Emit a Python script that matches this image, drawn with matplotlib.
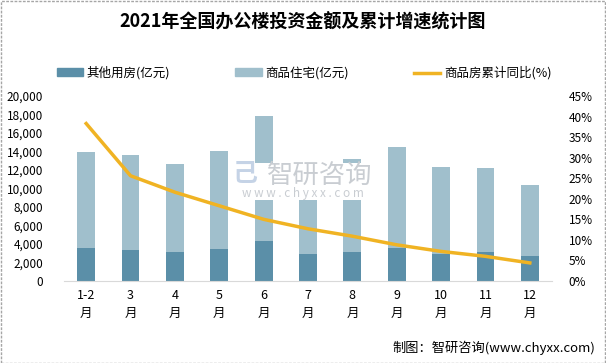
import numpy as np
import matplotlib.pyplot as plt
from matplotlib.patches import Rectangle
from matplotlib.lines import Line2D
from matplotlib.ticker import FuncFormatter

plt.rcParams['font.family'] = ['Noto Sans CJK SC', 'DejaVu Sans']

months = ["1-2", "3", "4", "5", "6", "7", "8", "9", "10", "11", "12"]
total = [13986, 13590, 12664, 14078, 17861, 12716, 13165, 14499, 12375, 12253, 10415]
other = [3570, 3350, 3130, 3460, 4320, 2920, 3130, 3570, 2920, 3130, 2700]
resid = [t - o for t, o in zip(total, other)]
growth = [38.3, 25.6, 21.6, 18.3, 15.0, 12.7, 10.9, 8.8, 7.2, 6.0, 4.4]

c_dark = "#5b8fa8"
c_light = "#a0bfcc"
c_line = "#f0b323"

fig = plt.figure(figsize=(6.06, 3.63), dpi=100)
ax = fig.add_axes([64/606, 82/363, 488/606, 185/363])
x = np.arange(len(months))
ax.bar(x, other, width=0.4, color=c_dark, zorder=2)
ax.bar(x, resid, width=0.4, bottom=other, color=c_light, zorder=2)
ax.set_xlim(-0.5, len(months) - 0.5)
ax.set_ylim(0, 20000)
ax.set_yticks(range(0, 20001, 2000))
ax.yaxis.set_major_formatter(FuncFormatter(lambda v, p: f"{int(v):,}"))
ax.set_xticks(x)
ax.set_xticklabels([m + "\n月" for m in months], fontsize=9, linespacing=1.5)
for s in ["top", "right", "left"]:
    ax.spines[s].set_visible(False)
ax.spines["bottom"].set_color("#d9d9d9")
ax.tick_params(axis="both", length=0)
ax.tick_params(axis="x", pad=6, labelsize=9)
ax.tick_params(axis="y", pad=15, labelsize=8.5)

ax2 = ax.twinx()
ax2.plot(x, growth, color=c_line, lw=2.5)
ax2.set_ylim(0, 45)
ax2.set_yticks(range(0, 46, 5))
ax2.yaxis.set_major_formatter(FuncFormatter(lambda v, p: f"{int(v)}%"))
for s in ax2.spines.values():
    s.set_visible(False)
ax2.tick_params(axis="y", length=0, labelsize=8.5, pad=12)

# watermark
ax.add_patch(Rectangle((231/606, 163/363), 150/606, 37/363, transform=fig.transFigure,
                       facecolor="white", edgecolor="none", zorder=3))
ax.text(320/606, 1 - 175/363, "智研咨询", transform=fig.transFigure, ha="center", va="center",
        fontsize=19, color="#c9cdd2", zorder=4)
ax.text(303/606, 1 - 194/363, "w w w . c h y x x . c o m", transform=fig.transFigure,
        ha="center", va="center", fontsize=8.5, color="#c9cdd2", zorder=4)
ax.text(245/606, 1 - 174/363, "己", transform=fig.transFigure, ha="center", va="center",
        fontsize=18, color="#c5d3e6", fontweight="bold", zorder=4)

fig.text(0.5, 1 - 22/363, "2021年全国办公楼投资金额及累计增速统计图", ha="center", va="center",
         fontsize=13, fontweight="bold")

handles = [Rectangle((0, 0), 1, 1, color=c_dark), Rectangle((0, 0), 1, 1, color=c_light),
           Line2D([], [], color=c_line, lw=2.5)]
fig.legend(handles, ["其他用房(亿元)", "商品住宅(亿元)", "商品房累计同比(%)"], ncol=3,
           loc="center", bbox_to_anchor=(304/606, 1 - 73/363), frameon=False, fontsize=9,
           handlelength=2.1, handleheight=0.6, handletextpad=0.3, columnspacing=5.2)

fig.text(595/606, 15/363, "制图：智研咨询(www.chyxx.com)", ha="right", va="center", fontsize=9.5)

fig.patches.append(Rectangle((0.001, 0.001), 0.997, 0.997, transform=fig.transFigure,
                             fill=False, edgecolor="#a6a6a6", lw=1, linestyle=(0, (2, 1))))

fig.savefig("out.png", dpi=100)
